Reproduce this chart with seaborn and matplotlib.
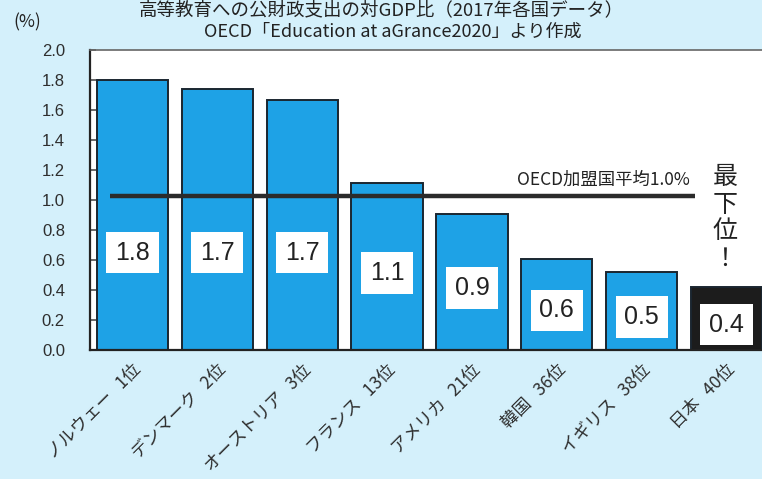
import matplotlib
matplotlib.use("Agg")
import matplotlib.pyplot as plt
import seaborn as sns
import pandas as pd

countries = ["ノルウェー", "デンマーク", "オーストリア", "フランス", "アメリカ", "韓国", "イギリス", "日本"]
ranks = ["1位", "2位", "3位", "13位", "21位", "36位", "38位", "40位"]
values = [1.80, 1.74, 1.67, 1.11, 0.91, 0.61, 0.52, 0.42]
value_labels = ["1.8", "1.7", "1.7", "1.1", "0.9", "0.6", "0.5", "0.4"]
oecd_avg = 1.03
yticks = [0.0, 0.2, 0.4, 0.6, 0.8, 1.0, 1.2, 1.4, 1.6, 1.8, 2.0]

sns.set_theme(style="white")
plt.rcParams['font.family'] = ['Noto Sans CJK JP', 'DejaVu Sans']

BLUE = "#1ea2e6"
BG = "#d4f0fb"

labels = [f"{c}   {r}" for c, r in zip(countries, ranks)]
df = pd.DataFrame({"label": labels, "value": values})
colors = [BLUE] * (len(values) - 1) + ["#1c1c1c"]

fig = plt.figure(figsize=(7.62, 4.79), dpi=100, facecolor=BG)
ax = fig.add_axes([90 / 762, 129 / 479, 679 / 762, 300 / 479])
ax.set_facecolor("white")

sns.barplot(data=df, x="label", y="value", hue="label", palette=colors, legend=False,
            width=0.84, edgecolor="#1a2630", linewidth=1.4, ax=ax, saturation=1)

ax.set_xlim(-0.5, len(values) - 0.5)
ax.set_ylim(0, 2.0)
ax.set_yticks(yticks)
ax.set_yticklabels([f"{t:.1f}" for t in yticks], fontfamily="Liberation Sans", fontsize=12, color="#2e2e2e")
ax.tick_params(axis="y", direction="in", length=4, pad=18, color="#555555", left=True)
ax.tick_params(axis="x", length=0, pad=8)
ax.set_xticks(range(len(labels)))
ax.set_xticklabels(labels, rotation=45, ha="right", rotation_mode="anchor", fontsize=12.5, color="#2e2e2e")
ax.set_xlabel("")
ax.set_ylabel("")
for s in ["left", "bottom"]:
    ax.spines[s].set_color("#222222")
    ax.spines[s].set_linewidth(1.6)
ax.spines["top"].set_color("#666666")
ax.spines["top"].set_linewidth(1.2)
ax.spines["right"].set_visible(False)

# value labels in white boxes
for i, (v, t) in enumerate(zip(values, value_labels)):
    yc = min(v * 0.5 - 0.04, 0.65)
    ax.text(i, yc, t, ha="center", va="center", fontsize=18, fontfamily="Liberation Sans",
            color="#222222", zorder=5,
            bbox=dict(boxstyle="square,pad=0.35", facecolor="white", edgecolor="none"))

# OECD average line
ax.plot([-0.27, 6.63], [oecd_avg, oecd_avg], color="#2b2b2b", linewidth=3.2, zorder=4,
        solid_capstyle="butt")
ax.text(6.57, 1.075, "OECD加盟国平均1.0%", ha="right", va="bottom", fontsize=12.5, color="#222222")

# 最下位！
ax.text(6.98, 0.88, "最\n下\n位\n！", ha="center", va="center", fontsize=18,
        linespacing=1.05, color="#222222")

# titles
fig.text(381 / 762, 1 - 10 / 479, "高等教育への公財政支出の対GDP比（2017年各国データ）",
         ha="center", va="center", fontsize=13.3, color="#222222")
fig.text(393 / 762, 1 - 32 / 479, "OECD「Education at aGrance2020」より作成",
         ha="center", va="center", fontsize=13, color="#222222")
fig.text(27 / 762, 1 - 22 / 479, "(%)", ha="center", va="center", fontsize=12.5, color="#222222")

fig.savefig("out.png", dpi=100, facecolor=BG)
